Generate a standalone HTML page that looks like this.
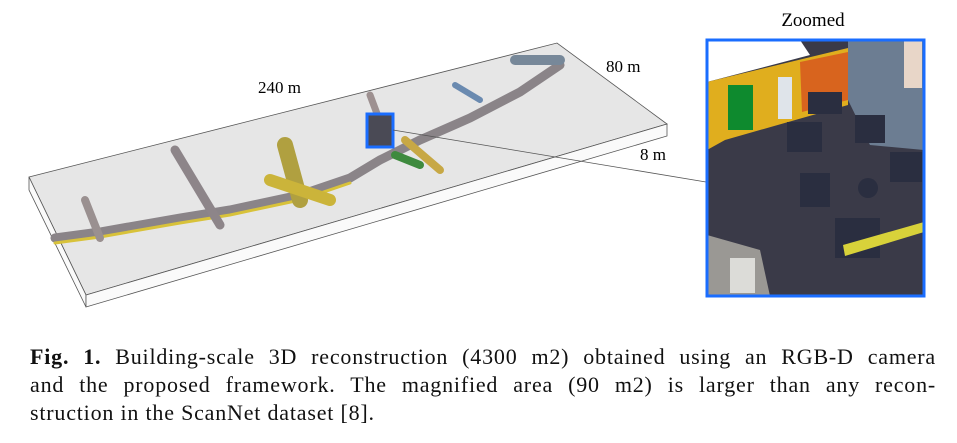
<!DOCTYPE html>
<html><head><meta charset="utf-8"><style>
html,body{margin:0;padding:0;background:#fff;}
body{width:957px;height:443px;position:relative;overflow:hidden;font-family:"Liberation Serif",serif;}
.ln{position:absolute;left:30px;width:906px;font-size:22px;letter-spacing:0.8px;line-height:28px;color:#111;white-space:nowrap;}
.j{text-align:justify;text-align-last:justify;}
</style></head><body>
<svg width="957" height="330" style="position:absolute;left:0;top:0" font-family="Liberation Serif, serif">
 <g>
  <polygon points="29,177 557,43 667,124 86,295" fill="#e6e6e6" stroke="#555" stroke-width="0.8"/>
  <polygon points="29,177 86,295 86,307 29,190" fill="#fafafa" stroke="#555" stroke-width="0.8"/>
  <polygon points="86,295 667,124 667,136 86,307" fill="#fafafa" stroke="#555" stroke-width="0.8"/>
 </g>
 <g fill="none" stroke-linecap="round">
  <polyline points="55,238 100,232 180,218 230,210 300,195 350,178 380,160 420,140 470,118 520,92 560,65" stroke="#8a8488" stroke-width="9"/>
  <polyline points="55,238 100,232 180,218 230,210 300,195 350,178" stroke="#d8c23a" stroke-width="3" transform="translate(0,5)"/>
  <polyline points="85,200 100,238" stroke="#9a9090" stroke-width="8"/>
  <polyline points="175,150 220,225" stroke="#8d8589" stroke-width="9"/>
  <polyline points="285,145 300,200" stroke="#b0a040" stroke-width="16"/>
  <polyline points="270,180 330,200" stroke="#cbb43a" stroke-width="12"/>
  <polyline points="370,95 385,135" stroke="#9d9090" stroke-width="7"/>
  <polyline points="405,140 440,170" stroke="#c7a845" stroke-width="8"/>
  <polyline points="395,155 420,165" stroke="#3e8a3e" stroke-width="8"/>
  <polyline points="455,85 480,100" stroke="#6a8ab0" stroke-width="6"/>
  <polyline points="515,60 560,60" stroke="#778899" stroke-width="10"/>
 </g>
 <rect x="367" y="114" width="26" height="33" fill="#4a4a55" stroke="#1a6dff" stroke-width="3"/>
 <line x1="393" y1="130" x2="706" y2="182" stroke="#555" stroke-width="0.8"/>
 <text x="258" y="93" font-size="17">240 m</text>
 <text x="606" y="72" font-size="17">80 m</text>
 <text x="640" y="160" font-size="17">8 m</text>
 <text x="813" y="26" font-size="19" text-anchor="middle">Zoomed</text>
 <g>
  <rect x="707" y="40" width="217" height="256" fill="#3a3a48"/>
  <polygon points="707,40 800,40 810,55 707,82" fill="#fff"/>
  <polygon points="707,82 848,48 848,105 725,140 707,150" fill="#e0ae1e"/>
  <polygon points="800,62 848,52 848,100 802,112" fill="#d8641e"/>
  <rect x="728" y="85" width="25" height="45" fill="#0e8a2e"/>
  <rect x="778" y="77" width="14" height="42" fill="#dfe4ea"/>
  <polygon points="848,40 924,40 924,150 870,145 848,100" fill="#6c7d92"/>
  <rect x="904" y="40" width="18" height="48" fill="#e8d6c8"/>
  <rect x="808" y="92" width="34" height="22" fill="#2a2e40"/>
  <rect x="787" y="122" width="35" height="30" fill="#2a2e40"/>
  <rect x="855" y="115" width="30" height="28" fill="#2a2e40"/>
  <rect x="890" y="152" width="32" height="30" fill="#2a2e40"/>
  <rect x="800" y="173" width="30" height="34" fill="#2a2e40"/>
  <circle cx="868" cy="188" r="10" fill="#2a2e40"/>
  <rect x="835" y="218" width="45" height="40" fill="#2a2e40"/>
  <polygon points="843,245 924,222 924,232 845,256" fill="#d8d23a"/>
  <polygon points="707,235 760,250 770,296 707,296" fill="#9a9894"/>
  <rect x="730" y="258" width="25" height="35" fill="#dcdcd8"/>
  <rect x="707" y="40" width="217" height="256" fill="none" stroke="#1a6dff" stroke-width="3"/>
 </g>
</svg>
<div>
<div class="ln j" style="top:343px"><b>Fig. 1.</b> Building-scale 3D reconstruction (4300 m2) obtained using an RGB-D camera</div>
<div class="ln j" style="top:371px">and the proposed framework. The magnified area (90 m2) is larger than any recon-</div>
<div class="ln" style="top:399px">struction in the ScanNet dataset [8].</div>
</div>
</body></html>
